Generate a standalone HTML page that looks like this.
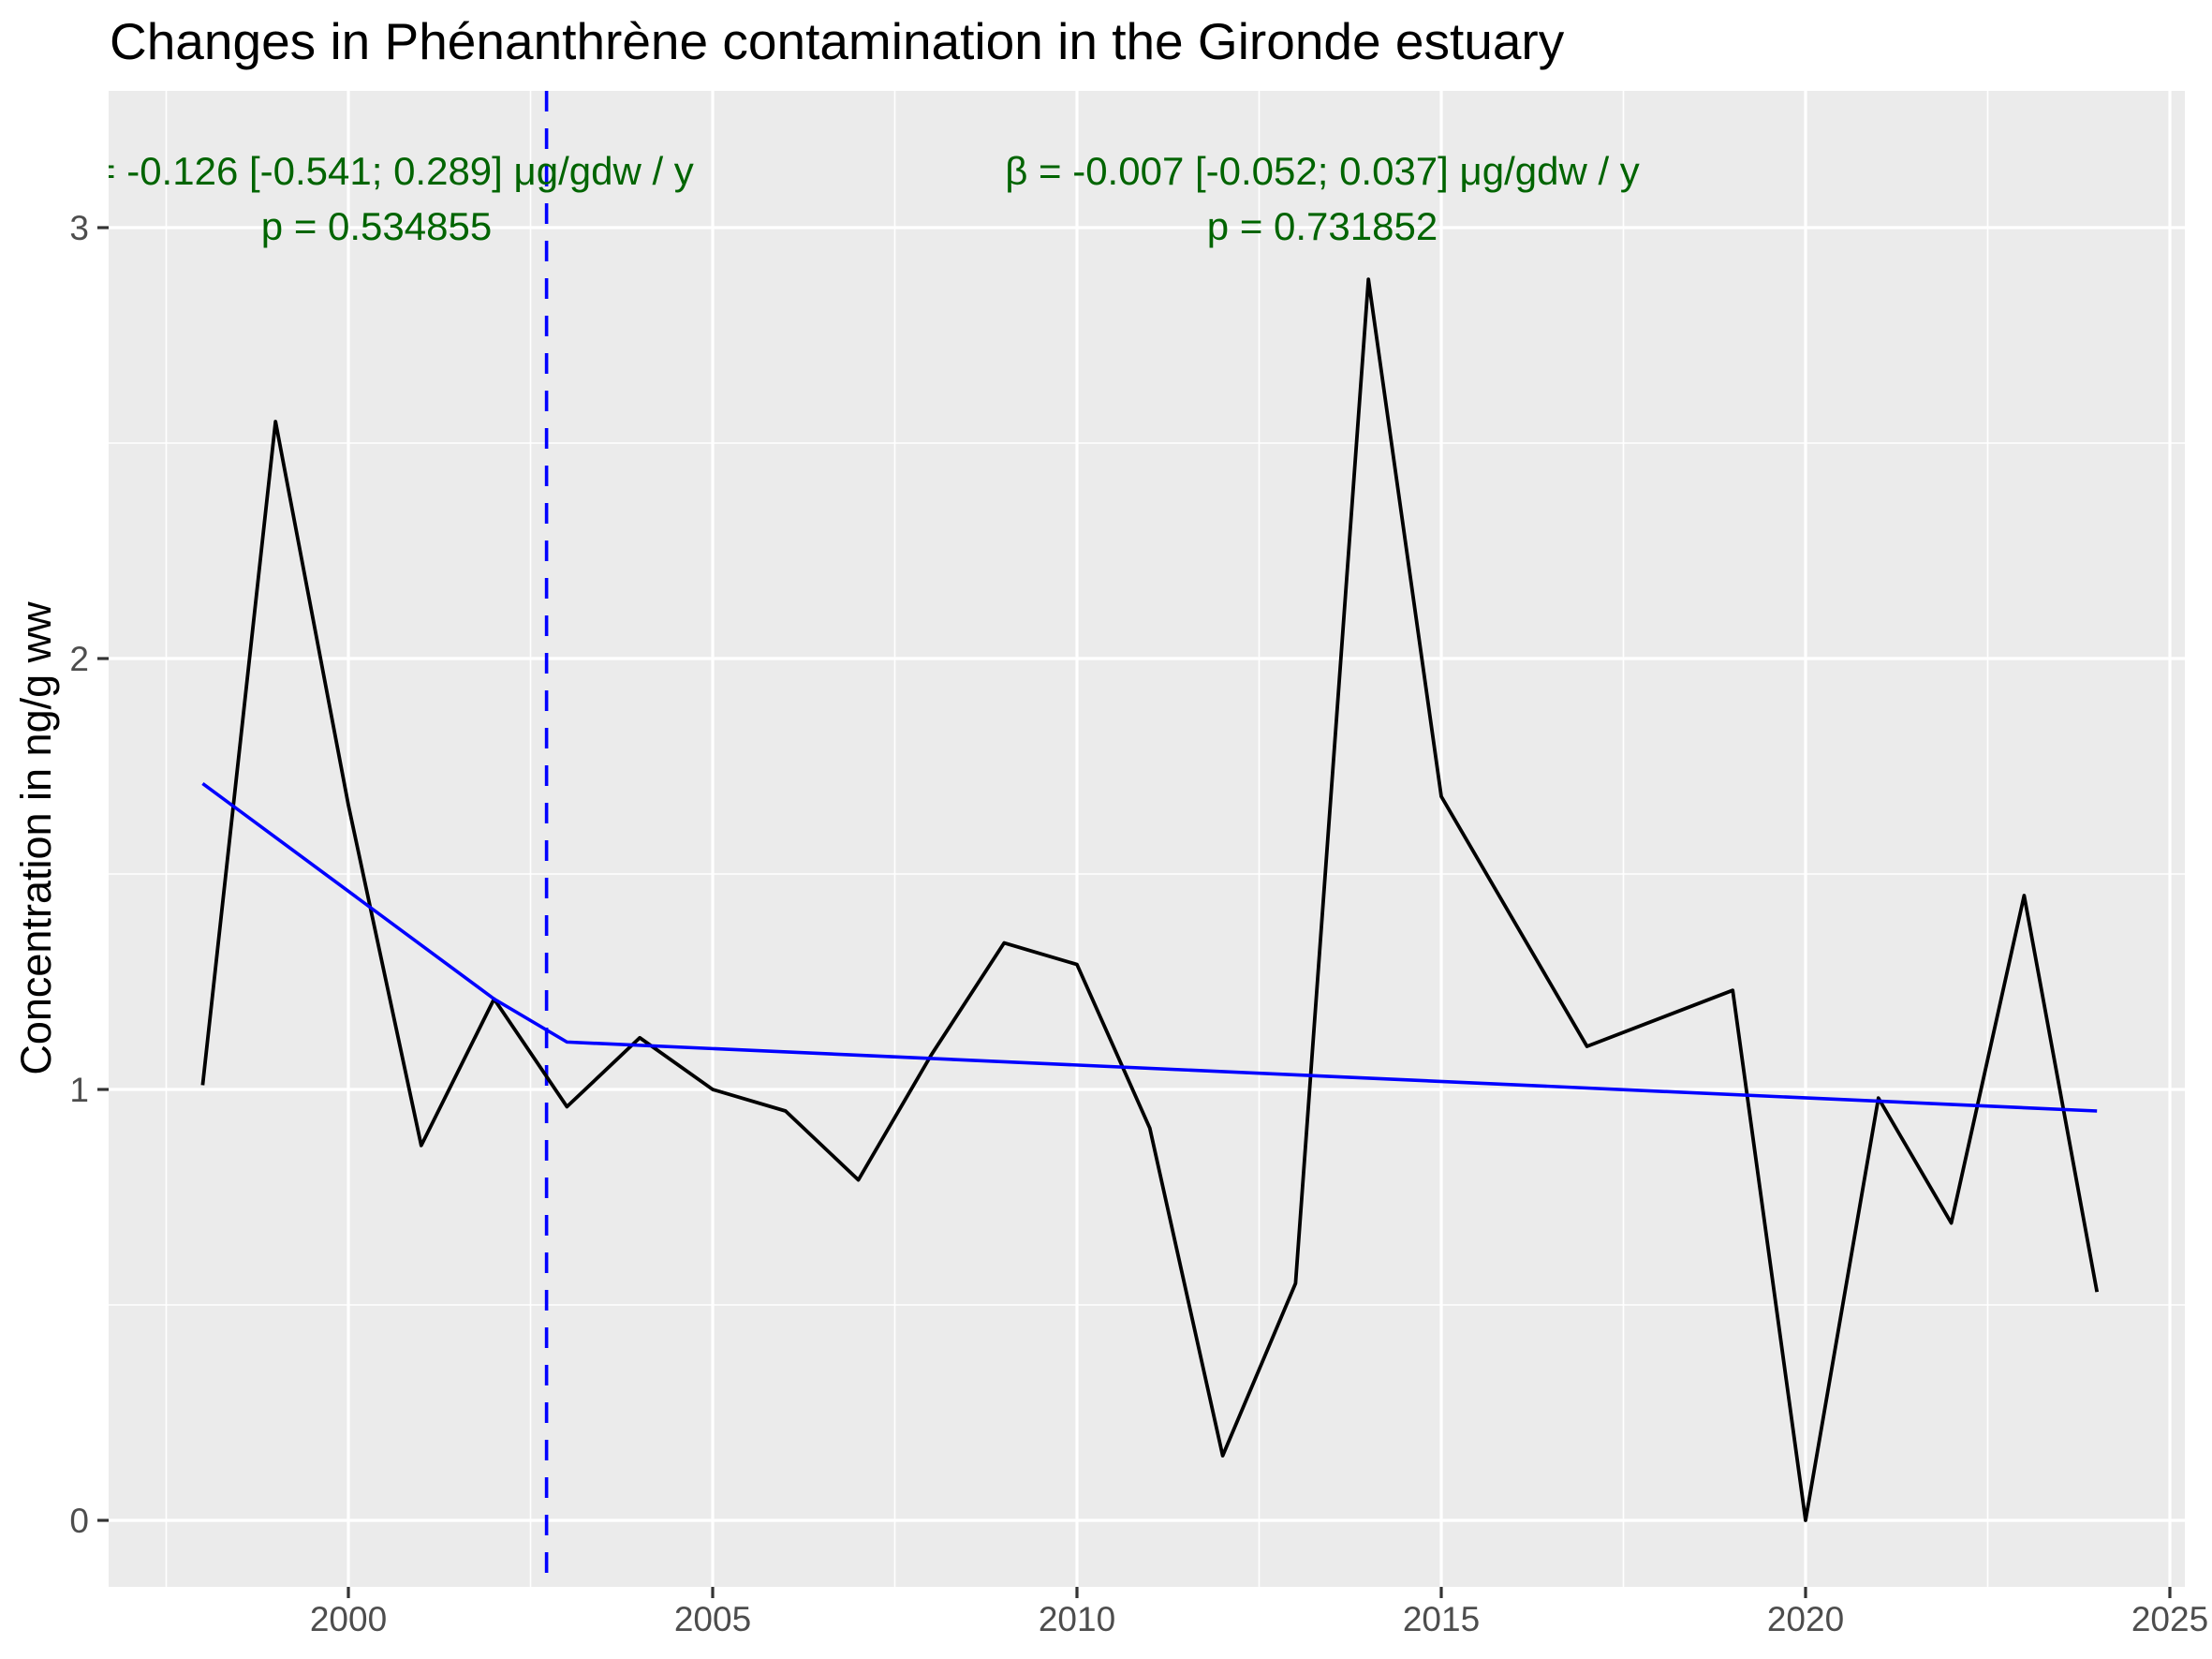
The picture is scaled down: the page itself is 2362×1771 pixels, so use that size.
<!DOCTYPE html>
<html><head><meta charset="utf-8"><style>
html,body{margin:0;padding:0;background:#fff;}
svg{display:block;font-family:"Liberation Sans",Arial,sans-serif;}
</style></head><body>
<svg id="chart" width="2362" height="1771" viewBox="0 0 2362 1771">
<text x="117" y="63" font-size="55" fill="#000">Changes in Phénanthrène contamination in the Gironde estuary</text>
<defs><clipPath id="pc"><rect x="116" y="97" width="2217" height="1597"/></clipPath></defs>
<rect x="116" y="97" width="2217" height="1597" fill="#EBEBEB"/>
<g id="grid"></g>
<g id="marks" clip-path="url(#pc)"></g>
<g id="axes"></g>
<g id="annot"></g>
<text transform="translate(54,895) rotate(-90)" text-anchor="middle" font-size="45" fill="#000">Concentration in ng/g ww</text>
</svg>
<script>
const years = [1998,1999,2000,2001,2002,2003,2004,2005,2006,2007,2008,2009,2010,2011,2012,2013,2014,2015,2017,2019,2020,2021,2022,2023,2024];
const values = [1.01,2.55,1.66,0.87,1.21,0.96,1.12,1.00,0.95,0.79,1.08,1.34,1.29,0.91,0.15,0.55,2.88,1.68,1.10,1.23,0.00,0.98,0.69,1.45,0.53];
const trendYears = [1998,2002,2003,2024];
const trendValues = [1.71,1.21,1.11,0.95];
const breakYear = 2002.72;
const xTicks = [2000,2005,2010,2015,2020,2025];
const xMinor = [1997.5,2002.5,2007.5,2012.5,2017.5,2022.5];
const yTicks = [0,1,2,3];
const yMinor = [0.5,1.5,2.5];

const L=116,R=2333,T=97,B=1694;
function X(v){return 372+(v-2000)*77.8;}
function Y(v){return 1623-v*460;}
const NS="http://www.w3.org/2000/svg";
function mk(tag,attrs,parent){const e=document.createElementNS(NS,tag);for(const k in attrs)e.setAttribute(k,attrs[k]);parent.appendChild(e);return e;}
const grid=document.getElementById('grid'),marks=document.getElementById('marks'),axes=document.getElementById('axes');

yMinor.forEach(v=>{const e=mk('line',{x1:L,x2:R,y1:Y(v),y2:Y(v),stroke:'#fff','stroke-width':1.6},grid);

});
xMinor.forEach(v=>{const e=mk('line',{x1:X(v),x2:X(v),y1:T,y2:B,stroke:'#fff','stroke-width':1.6},grid);

});
yTicks.forEach(v=>{const e=mk('line',{x1:L,x2:R,y1:Y(v),y2:Y(v),stroke:'#fff','stroke-width':3.2},grid);


const t=mk('line',{x1:104,x2:L,y1:Y(v),y2:Y(v),stroke:'#333','stroke-width':3.2},axes);


const l=mk('text',{x:95,y:Y(v)+13,'text-anchor':'end','font-size':37,fill:'#4D4D4D'},axes);
l.textContent=v;

});
xTicks.forEach(v=>{const e=mk('line',{x1:X(v),x2:X(v),y1:T,y2:B,stroke:'#fff','stroke-width':3.2},grid);


const t=mk('line',{x1:X(v),x2:X(v),y1:B,y2:B+12,stroke:'#333','stroke-width':3.2},axes);


const l=mk('text',{x:X(v),y:1741,'text-anchor':'middle','font-size':37,fill:'#4D4D4D'},axes);
l.textContent=v;

});

const br=mk('line',{x1:X(breakYear),x2:X(breakYear),y1:T,y2:B,stroke:'#0000FF','stroke-width':3.6,'stroke-dasharray':'22 18'},marks);


const dl=mk('polyline',{points:years.map((y,i)=>X(y)+','+Y(values[i])).join(' '),fill:'none',stroke:'#000','stroke-width':3.8,'stroke-linejoin':'round'},marks);


const tl=mk('polyline',{points:trendYears.map((y,i)=>X(y)+','+Y(trendValues[i])).join(' '),fill:'none',stroke:'#0000FF','stroke-width':3.6},marks);



const annot=document.getElementById('annot');
const g=mk('g',{'clip-path':'url(#pc)'},annot);
[[402,197,'β = -0.126 [-0.541; 0.289] μg/gdw / y','beta-annotation-left'],[402,256,'p = 0.534855','p-annotation-left'],
 [1412,197,'β = -0.007 [-0.052; 0.037] μg/gdw / y','beta-annotation-right'],[1412,256,'p = 0.731852','p-annotation-right']].forEach(a=>{
 const t=mk('text',{x:a[0],y:a[1],'text-anchor':'middle','font-size':42,fill:'#006400'},g);
 t.textContent=a[2];
 
 });
</script>
</body></html>
